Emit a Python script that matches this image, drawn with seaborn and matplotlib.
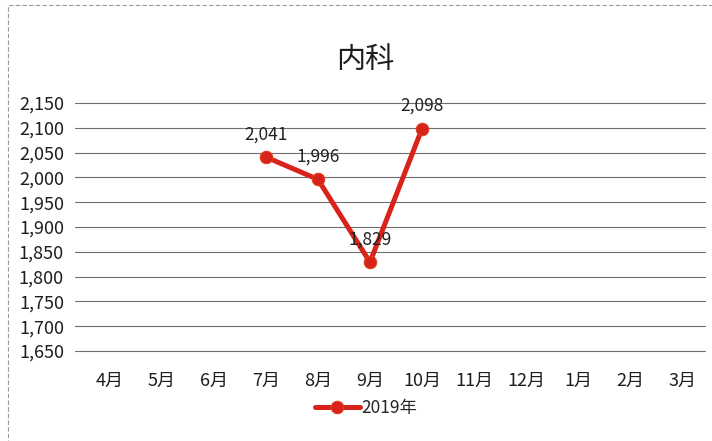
import numpy as np
import pandas as pd
import matplotlib
matplotlib.use("Agg")
import matplotlib.pyplot as plt
from matplotlib.patches import Rectangle
import seaborn as sns

months = ["4月", "5月", "6月", "7月", "8月", "9月", "10月", "11月", "12月", "1月", "2月", "3月"]
visits_2019 = [np.nan, np.nan, np.nan, 2041, 1996, 1829, 2098, np.nan, np.nan, np.nan, np.nan, np.nan]
y_ticks = [1650, 1700, 1750, 1800, 1850, 1900, 1950, 2000, 2050, 2100, 2150]
series_name = "2019年"
title = "内科"

sns.set_theme(style="white")
plt.rcParams["font.family"] = ["Noto Sans CJK JP", "DejaVu Sans"]

df = pd.DataFrame({"pos": range(len(months)), "month": months, "value": visits_2019})
df = df.dropna()

fig = plt.figure(figsize=(7.12, 4.41), dpi=100)
ax = fig.add_axes([75 / 712, 1 - 351 / 441, 630 / 712, 248 / 441])

red = "#d8231b"
sns.lineplot(data=df, x="pos", y="value", ax=ax, color=red, lw=3.6,
             marker="o", markersize=9, markeredgecolor="#e0401a",
             markerfacecolor=red, label=series_name)

for _, r in df.iterrows():
    ax.annotate(f"{int(r['value']):,}", (r["pos"], r["value"]),
                xytext=(0, 10), textcoords="offset points",
                ha="center", va="bottom", fontsize=12.5, color="#222222")

ax.set_xlim(-0.67, 11.44)
ax.set_ylim(1650, 2150)
ax.set_yticks(y_ticks)
ax.set_yticklabels([f"{v:,}" for v in y_ticks])
ax.set_xticks(range(len(months)))
ax.set_xticklabels(months)
ax.tick_params(axis="y", length=0, pad=8, labelsize=13, labelcolor="#1e1e1e")
ax.tick_params(axis="x", length=0, pad=15, labelsize=13, labelcolor="#1e1e1e")
ax.yaxis.grid(True, color="#6e6e6e", lw=0.8)
ax.xaxis.grid(False)
for gl in ax.get_ygridlines():
    gl.set_clip_on(False)
for s in ax.spines.values():
    s.set_visible(False)
ax.set_xlabel("")
ax.set_ylabel("")

fig.text(365 / 712, 1 - 60 / 441, title, ha="center", va="center",
         fontsize=21, color="#1e1e1e")

ax.legend_.remove()
fig.legend(*ax.get_legend_handles_labels(), loc="center",
           bbox_to_anchor=(366 / 712, 1 - 408 / 441), frameon=False,
           fontsize=12.5, handlelength=2.6, handletextpad=0.1)

fig.patches.append(Rectangle((8 / 712, -0.01), 1.0, 1 - 5 / 441 + 0.01,
                             transform=fig.transFigure, fill=False,
                             edgecolor="#9a9a9a", lw=0.8, ls=(0, (4, 2))))

fig.savefig("out.png", dpi=100)
